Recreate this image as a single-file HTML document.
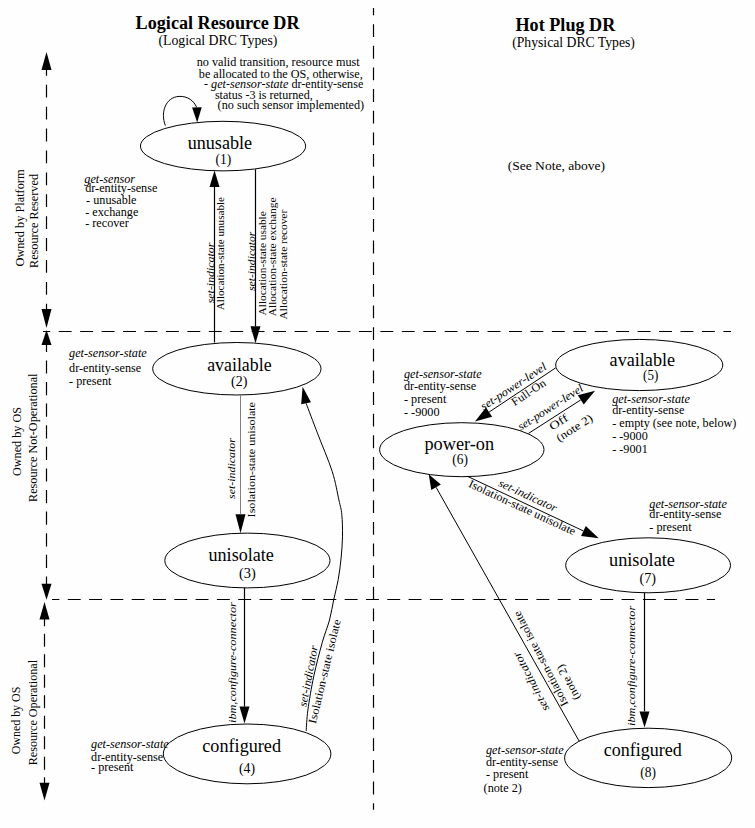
<!DOCTYPE html>
<html><head><meta charset="utf-8"><style>
html,body{margin:0;padding:0;background:#fefefe;}
body{width:755px;height:828px;overflow:hidden;}
svg{display:block;}
</style></head><body>
<svg width="755" height="828" viewBox="0 0 755 828">
<line x1="373.5" y1="8" x2="373.5" y2="809.7" stroke="#000" stroke-width="1.2" stroke-dasharray="12.8 8.84" stroke-dashoffset="5.44"/>
<line x1="43" y1="331.5" x2="731" y2="331.5" stroke="#000" stroke-width="1.2" stroke-dasharray="12.9 8.54" stroke-dashoffset="5.70"/>
<line x1="52" y1="599.5" x2="715" y2="599.5" stroke="#000" stroke-width="1.2" stroke-dasharray="12.9 8.4" stroke-dashoffset="5.50"/>
<line x1="46.5" y1="60" x2="46.5" y2="318" stroke="#000" stroke-width="1.2" stroke-dasharray="12.8 9.1" stroke-dashoffset="19.00"/>
<polygon points="46.50,52.00 51.50,70.00 41.50,70.00" fill="#000"/>
<polygon points="46.50,328.00 41.50,309.00 51.50,309.00" fill="#000"/>
<line x1="46.5" y1="338" x2="46.5" y2="590" stroke="#000" stroke-width="1.2" stroke-dasharray="13.2 8.4" stroke-dashoffset="20.80"/>
<polygon points="46.50,330.00 51.50,345.00 41.50,345.00" fill="#000"/>
<polygon points="46.50,599.70 41.50,583.70 51.50,583.70" fill="#000"/>
<line x1="44.5" y1="610" x2="44.5" y2="790" stroke="#000" stroke-width="1.2" stroke-dasharray="12.9 7.6" stroke-dashoffset="17.20"/>
<polygon points="44.50,602.00 49.50,619.60 39.50,619.60" fill="#000"/>
<polygon points="44.50,800.50 39.50,782.70 49.50,782.70" fill="#000"/>
<ellipse cx="223.05" cy="146.1" rx="82.6" ry="24.8" fill="none" stroke="#000" stroke-width="1.0"/>
<ellipse cx="236.85" cy="368.75" rx="84.15" ry="26.25" fill="none" stroke="#000" stroke-width="1.0"/>
<ellipse cx="247.4" cy="560.5" rx="82.6" ry="27.4" fill="none" stroke="#000" stroke-width="1.0"/>
<ellipse cx="247.1" cy="753.9" rx="83.8" ry="29.9" fill="none" stroke="#000" stroke-width="1.0"/>
<ellipse cx="639.25" cy="365" rx="83.55" ry="25.6" fill="none" stroke="#000" stroke-width="1.0"/>
<ellipse cx="461.8" cy="449.7" rx="82.2" ry="27" fill="none" stroke="#000" stroke-width="1.0"/>
<ellipse cx="648.1" cy="565.3" rx="82.4" ry="27.5" fill="none" stroke="#000" stroke-width="1.0"/>
<ellipse cx="648.15" cy="757.9" rx="83.55" ry="29.7" fill="none" stroke="#000" stroke-width="1.0"/>
<path d="M165.4,125.6 C160,112 166,97 179.1,96.4 C188,96 194,101 196.6,107.3" fill="none" stroke="#000" stroke-width="1"/>
<polygon points="197.20,122.40 192.10,107.50 201.70,107.31" fill="#000"/>
<polygon points="214.50,170.60 219.50,187.00 209.50,187.00" fill="#000"/>
<line x1="214.50" y1="342.50" x2="214.50" y2="187.00" stroke="#000" stroke-width="1.2"/>
<polygon points="255.50,343.30 250.50,326.30 260.50,326.30" fill="#000"/>
<line x1="255.50" y1="169.30" x2="255.50" y2="326.30" stroke="#000" stroke-width="1.2"/>
<polygon points="240.50,533.30 235.50,514.30 245.50,514.30" fill="#000"/>
<line x1="240.50" y1="395.00" x2="240.50" y2="514.30" stroke="#808080" stroke-width="1"/>
<polygon points="244.50,723.50 239.50,706.50 249.50,706.50" fill="#000"/>
<line x1="244.50" y1="587.90" x2="244.50" y2="706.50" stroke="#000" stroke-width="1.2"/>
<path d="M306.2,731 C306.48,727.48 306.63,719.05 307.9,709.9 C309.17,700.75 311.40,687.37 313.8,676.1 C316.20,664.83 319.68,651.65 322.3,642.3 C324.92,632.95 327.58,627.17 329.5,620 C331.42,612.83 332.35,606.02 333.8,599.3 C335.25,592.58 336.98,586.58 338.2,579.7 C339.42,572.82 340.38,565.25 341.1,558 C341.82,550.75 342.38,543.45 342.5,536.2 C342.62,528.95 342.40,520.53 341.8,514.5 C341.20,508.47 340.50,507.18 338.9,500 C337.30,492.82 335.73,482.43 332.2,471.4 C328.67,460.37 322.05,445.15 317.7,433.8 C313.35,422.45 308.03,408.38 306.1,403.3" fill="none" stroke="#000" stroke-width="1"/>
<polygon points="302.60,386.80 310.98,402.20 301.19,404.27" fill="#000"/>
<polygon points="474.90,421.50 486.02,407.52 492.11,416.68" fill="#000"/>
<line x1="555.80" y1="367.80" x2="489.06" y2="412.10" stroke="#000" stroke-width="1.0"/>
<polygon points="595.10,390.70 583.76,404.51 577.82,395.25" fill="#000"/>
<line x1="528.50" y1="433.40" x2="580.79" y2="399.88" stroke="#000" stroke-width="1.0"/>
<polygon points="598.80,538.20 581.08,535.93 585.76,525.98" fill="#000"/>
<line x1="467.60" y1="476.40" x2="583.42" y2="530.96" stroke="#000" stroke-width="1.0"/>
<polygon points="644.50,727.40 639.50,711.40 649.50,711.40" fill="#000"/>
<line x1="644.50" y1="592.80" x2="644.50" y2="711.40" stroke="#000" stroke-width="1.2"/>
<polygon points="428.70,474.20 440.86,484.57 431.27,489.97" fill="#000"/>
<line x1="579.30" y1="741.40" x2="436.07" y2="487.27" stroke="#000" stroke-width="1.0"/>
<g font-family="Liberation Serif" fill="#000">
<text id="t0" x="135.6" y="28.6" font-size="18" font-weight="bold" textLength="164" lengthAdjust="spacingAndGlyphs">Logical Resource DR</text>
<text id="t1" x="158.4" y="44.5" font-size="13.7" textLength="119" lengthAdjust="spacingAndGlyphs">(Logical DRC Types)</text>
<text id="t2" x="515.5" y="30.5" font-size="18" font-weight="bold" textLength="99.8" lengthAdjust="spacingAndGlyphs">Hot Plug DR</text>
<text id="t3" x="512.2" y="47.2" font-size="13.7" textLength="122.7" lengthAdjust="spacingAndGlyphs">(Physical DRC Types)</text>
<text id="t4" x="196.7" y="66.4" font-size="12" textLength="163" lengthAdjust="spacingAndGlyphs">no valid transition, resource must</text>
<text id="t5" x="198.8" y="78.2" font-size="12" textLength="164" lengthAdjust="spacingAndGlyphs">be allocated to the OS, otherwise,</text>
<text id="t6" x="204.0" y="87.7" font-size="12" textLength="159.3" lengthAdjust="spacingAndGlyphs">- <tspan font-style="italic">get-sensor-state</tspan> dr-entity-sense</text>
<text id="t7" x="214.9" y="98.9" font-size="12" textLength="97.8" lengthAdjust="spacingAndGlyphs">status -3 is returned,</text>
<text id="t8" x="217.6" y="109" font-size="12" textLength="146.6" lengthAdjust="spacingAndGlyphs">(no such sensor implemented)</text>
<text id="t9" x="84.3" y="182.6" font-size="12.2" font-style="italic">get-sensor</text>
<text id="t10" x="85.2" y="191.9" font-size="12.2">dr-entity-sense</text>
<text id="t11" x="86.1" y="203.6" font-size="12.2">- unusable</text>
<text id="t12" x="85.2" y="216" font-size="12.2">- exchange</text>
<text id="t13" x="85.2" y="226.8" font-size="12.2">- recover</text>
<text id="t14" x="187.7" y="149.0" font-size="18" textLength="64.4" lengthAdjust="spacingAndGlyphs">unusable</text>
<text id="t15" x="207.2" y="370.5" font-size="18" textLength="64.4" lengthAdjust="spacingAndGlyphs">available</text>
<text id="t16" x="208.5" y="561.1" font-size="18" textLength="65.4" lengthAdjust="spacingAndGlyphs">unisolate</text>
<text id="t17" x="202.3" y="752.4" font-size="18" textLength="78.7" lengthAdjust="spacingAndGlyphs">configured</text>
<text id="t18" x="609.6" y="366.3" font-size="18" textLength="65.5" lengthAdjust="spacingAndGlyphs">available</text>
<text id="t19" x="424.4" y="450.3" font-size="18" textLength="69.7" lengthAdjust="spacingAndGlyphs">power-on</text>
<text id="t20" x="609.0" y="566.1" font-size="18" textLength="66" lengthAdjust="spacingAndGlyphs">unisolate</text>
<text id="t21" x="603.8" y="756.0" font-size="18" textLength="78.0" lengthAdjust="spacingAndGlyphs">configured</text>
<text id="t22" x="215.6" y="163.9" font-size="14" textLength="15.7" lengthAdjust="spacingAndGlyphs">(1)</text>
<text id="t23" x="231.0" y="385.6" font-size="14" textLength="16.4" lengthAdjust="spacingAndGlyphs">(2)</text>
<text id="t24" x="239.0" y="577.7" font-size="14" textLength="16.8" lengthAdjust="spacingAndGlyphs">(3)</text>
<text id="t25" x="239.0" y="772.7" font-size="14" textLength="16" lengthAdjust="spacingAndGlyphs">(4)</text>
<text id="t26" x="643.1" y="379.9" font-size="14" textLength="15.2" lengthAdjust="spacingAndGlyphs">(5)</text>
<text id="t27" x="452.3" y="464.1" font-size="14" textLength="15.6" lengthAdjust="spacingAndGlyphs">(6)</text>
<text id="t28" x="639.5" y="583.2" font-size="14" textLength="16.5" lengthAdjust="spacingAndGlyphs">(7)</text>
<text id="t29" x="640.3" y="777.2" font-size="14" textLength="15.6" lengthAdjust="spacingAndGlyphs">(8)</text>
<text id="t30" x="69.1" y="357" font-size="12.2" font-style="italic">get-sensor-state</text>
<text id="t31" x="69.1" y="371.8" font-size="12.2">dr-entity-sense</text>
<text id="t32" x="69.1" y="385" font-size="12.2">- present</text>
<text id="t33" x="91.1" y="747.9" font-size="12.2" font-style="italic">get-sensor-state</text>
<text id="t34" x="91.1" y="760.5" font-size="12.2">dr-entity-sense</text>
<text id="t35" x="91.1" y="771" font-size="12.2">- present</text>
<text id="t36" x="404.0" y="378.4" font-size="12.2" font-style="italic">get-sensor-state</text>
<text id="t37" x="404.0" y="390" font-size="12.2">dr-entity-sense</text>
<text id="t38" x="404.0" y="402.5" font-size="12.2">- present</text>
<text id="t39" x="404.0" y="416" font-size="12.2">- -9000</text>
<text id="t40" x="612.2" y="402.6" font-size="12.2" font-style="italic">get-sensor-state</text>
<text id="t41" x="612.2" y="414" font-size="12.2">dr-entity-sense</text>
<text id="t42" x="612.2" y="426.8" font-size="12.2">- empty (see note, below)</text>
<text id="t43" x="612.2" y="439.6" font-size="12.2">- -9000</text>
<text id="t44" x="612.2" y="453.3" font-size="12.2">- -9001</text>
<text id="t45" x="649.3" y="507.6" font-size="12.2" font-style="italic">get-sensor-state</text>
<text id="t46" x="649.3" y="518.4" font-size="12.2">dr-entity-sense</text>
<text id="t47" x="649.3" y="531.3" font-size="12.2">- present</text>
<text id="t48" x="486.0" y="754.2" font-size="12.2" font-style="italic">get-sensor-state</text>
<text id="t49" x="486.0" y="766.3" font-size="12.2">dr-entity-sense</text>
<text id="t50" x="486.0" y="777.5" font-size="12.2">- present</text>
<text id="t51" x="483.6" y="792" font-size="12.2">(note 2)</text>
<text id="t52" x="507.7" y="169.8" font-size="13.5" textLength="97.3" lengthAdjust="spacingAndGlyphs">(See Note, above)</text>
<text id="t53" x="213.8" y="303.3" font-size="11.3" font-style="italic" textLength="60.7" lengthAdjust="spacingAndGlyphs" transform="rotate(-90 213.8 303.3)">set-indicator</text>
<text id="t54" x="224.1" y="310.2" font-size="11.3" textLength="113.2" lengthAdjust="spacingAndGlyphs" transform="rotate(-90 224.1 310.2)">Allocation-state unusable</text>
<text id="t55" x="254.7" y="290.9" font-size="11.3" font-style="italic" textLength="59.3" lengthAdjust="spacingAndGlyphs" transform="rotate(-90 254.7 290.9)">set-indicator</text>
<text id="t56" x="265.6" y="315.4" font-size="11.3" textLength="104.2" lengthAdjust="spacingAndGlyphs" transform="rotate(-90 265.6 315.4)">Allocation-state usable</text>
<text id="t57" x="276.1" y="316.2" font-size="11.3" textLength="118.7" lengthAdjust="spacingAndGlyphs" transform="rotate(-90 276.1 316.2)">Allocation-state exchange</text>
<text id="t58" x="286.8" y="319.4" font-size="11.3" textLength="109.6" lengthAdjust="spacingAndGlyphs" transform="rotate(-90 286.8 319.4)">Allocation-state recover</text>
<text id="t59" x="235.2" y="499.0" font-size="11.3" font-style="italic" textLength="61" lengthAdjust="spacingAndGlyphs" transform="rotate(-90 235.2 499.0)">set-indicator</text>
<text id="t60" x="255.0" y="517.4" font-size="11.3" textLength="115.4" lengthAdjust="spacingAndGlyphs" transform="rotate(-90 255.0 517.4)">Isolation-state unisolate</text>
<text id="t61" x="235.6" y="723.0" font-size="11.3" font-style="italic" textLength="120.9" lengthAdjust="spacingAndGlyphs" transform="rotate(-90 235.6 723.0)">ibm,configure-connector</text>
<text id="t62" x="635.1" y="725.9" font-size="11.3" font-style="italic" textLength="120.1" lengthAdjust="spacingAndGlyphs" transform="rotate(-90 635.1 725.9)">ibm,configure-connector</text>
<text id="t63" x="24.5" y="266.6" font-size="12.5" textLength="97.1" lengthAdjust="spacingAndGlyphs" transform="rotate(-90 24.5 266.6)">Owned by Platform</text>
<text id="t64" x="38.0" y="268.0" font-size="12.5" textLength="94" lengthAdjust="spacingAndGlyphs" transform="rotate(-90 38.0 268.0)">Resource Reserved</text>
<text id="t65" x="20.8" y="476.0" font-size="12.5" textLength="69" lengthAdjust="spacingAndGlyphs" transform="rotate(-90 20.8 476.0)">Owned by OS</text>
<text id="t66" x="37.4" y="502.0" font-size="12.5" textLength="128.5" lengthAdjust="spacingAndGlyphs" transform="rotate(-90 37.4 502.0)">Resource Not-Operational</text>
<text id="t67" x="19.8" y="754.3" font-size="12.5" textLength="67.6" lengthAdjust="spacingAndGlyphs" transform="rotate(-90 19.8 754.3)">Owned by OS</text>
<text id="t68" x="37.4" y="765.3" font-size="12.5" textLength="105.4" lengthAdjust="spacingAndGlyphs" transform="rotate(-90 37.4 765.3)">Resource Operational</text>
<text id="t69" x="312.1" y="676.9" font-size="11.5" font-style="italic" textLength="62.04" lengthAdjust="spacingAndGlyphs" transform="rotate(-79 312.1 676.9)" text-anchor="middle">set-indicator</text>
<text id="t70" x="328.3" y="672.25" font-size="11.5" textLength="106.71" lengthAdjust="spacingAndGlyphs" transform="rotate(-76.5 328.3 672.25)" text-anchor="middle">Isolation-state isolate</text>
<text id="t71" x="515.5" y="389.55" font-size="11.5" font-style="italic" textLength="76.19" lengthAdjust="spacingAndGlyphs" transform="rotate(-33.2 515.5 389.55)" text-anchor="middle">set-power-level</text>
<text id="t72" x="530.7" y="395.55" font-size="11.5" textLength="38.75" lengthAdjust="spacingAndGlyphs" transform="rotate(-33.6 530.7 395.55)" text-anchor="middle">Full-On</text>
<text id="t73" x="552.45" y="410.5" font-size="11.5" font-style="italic" textLength="75.38" lengthAdjust="spacingAndGlyphs" transform="rotate(-32.7 552.45 410.5)" text-anchor="middle">set-power-level</text>
<text id="t74" x="560.65" y="425.3" font-size="11.5" textLength="19.79" lengthAdjust="spacingAndGlyphs" transform="rotate(-32.7 560.65 425.3)" text-anchor="middle">Off</text>
<text id="t75" x="576.4" y="431.1" font-size="11.5" textLength="40.85" lengthAdjust="spacingAndGlyphs" transform="rotate(-32.7 576.4 431.1)" text-anchor="middle">(note 2)</text>
<text id="t76" x="526.3" y="498.9" font-size="11.5" font-style="italic" textLength="63.05" lengthAdjust="spacingAndGlyphs" transform="rotate(24.8 526.3 498.9)" text-anchor="middle">set-indicator</text>
<text id="t77" x="520.6" y="510.95" font-size="11.5" textLength="116.39" lengthAdjust="spacingAndGlyphs" transform="rotate(24.8 520.6 510.95)" text-anchor="middle">Isolation-state unisolate</text>
<text id="t78" x="544.05" y="657.0" font-size="11.5" textLength="105.69" lengthAdjust="spacingAndGlyphs" transform="rotate(-117.5 544.05 657.0)" text-anchor="middle">Isolation-state isolate</text>
<text id="t79" x="534.4" y="679.95" font-size="11.5" font-style="italic" textLength="65.68" lengthAdjust="spacingAndGlyphs" transform="rotate(-117.5 534.4 679.95)" text-anchor="middle">set-indicator</text>
<text id="t80" x="571.65" y="680.75" font-size="11.5" textLength="38.5" lengthAdjust="spacingAndGlyphs" transform="rotate(-117.5 571.65 680.75)" text-anchor="middle">(note 2)</text>
</g>
</svg>
</body></html>
